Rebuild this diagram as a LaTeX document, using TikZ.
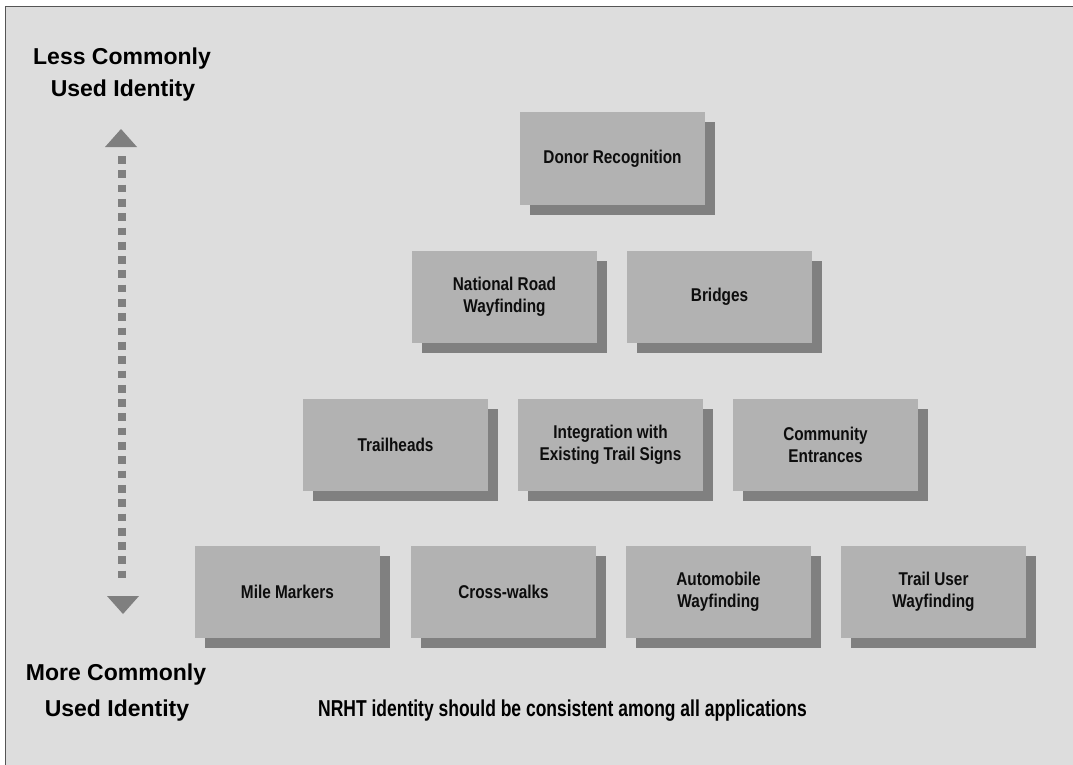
\documentclass[tikz,border=0pt]{standalone}
\usepackage{fontspec}
\setmainfont{Liberation Sans}
\newfontfamily\boxfont{Liberation Sans}[FakeStretch=0.83]
\newfontfamily\notefont{Liberation Sans}[FakeStretch=0.76]
\usetikzlibrary{shadows}
\definecolor{bg}{HTML}{DDDDDD}
\definecolor{boxfill}{HTML}{B2B2B2}
\definecolor{shade}{HTML}{808080}
\definecolor{framecol}{HTML}{555555}
\definecolor{arrowcol}{HTML}{7F7F7F}
\begin{document}
\begin{tikzpicture}[x=1bp,y=-1bp,
  item/.style={rectangle, fill=boxfill, minimum width=185bp, minimum height=92bp,
    inner sep=0pt, align=center, text=black!95,
    font=\boxfont\fontsize{18.5bp}{22bp}\selectfont\bfseries,
    drop shadow={shadow xshift=10bp, shadow yshift=-10bp, fill=shade, opacity=1}},
  sidelabel/.style={anchor=base, inner sep=0pt, font=\fontsize{23bp}{27bp}\selectfont\bfseries},
  notelabel/.style={anchor=base, inner sep=0pt, font=\notefont\fontsize{23bp}{27bp}\selectfont\bfseries},
  tri/.style={fill=arrowcol}
]
\path[use as bounding box] (0,0) rectangle (1073,765);
\fill[white] (0,0) rectangle (1073,765);
\draw[framecol, line width=1.5bp, fill=bg] (5.5,6.5) rectangle (1100,800);

% side labels
\node[sidelabel] (lessA) at (122,65) {Less Commonly};
\node[sidelabel] (lessB) at (123,97) {Used Identity};
\node[sidelabel] (moreA) at (116,680) {More Commonly};
\node[sidelabel] (moreB) at (117,716.5) {Used Identity};
\node[notelabel] (note) at (562.5,716) {NRHT identity should be consistent among all applications};

% vertical arrow
\coordinate (arrtop) at (122,156);
\coordinate (arrbot) at (122,584);
\draw[arrowcol, line width=8bp, dash pattern=on 7.7bp off 6.6bp] (arrtop) -- (arrbot);
\fill[tri] (121,129) -- (137,147) -- (105,147) -- cycle;
\fill[tri] (107,596) -- (139,596) -- (123,614) -- cycle;

% boxes
\node[item] (donor) at (612.5,158.5) {Donor Recognition};
\node[item] (national) at (504.5,297) {National Road\\Wayfinding};
\node[item] (bridges) at (719.5,297) {Bridges};
\node[item] (trailheads) at (395.5,445) {Trailheads};
\node[item] (integration) at (610.5,445) {Integration with\\Existing Trail Signs};
\node[item] (community) at (825.5,445) {Community\\Entrances};
\node[item] (mile) at (287.5,592) {Mile Markers};
\node[item] (cross) at (503.5,592) {Cross-walks};
\node[item] (auto) at (718.5,592) {Automobile\\Wayfinding};
\node[item] (trailuser) at (933.5,592) {Trail User\\Wayfinding};
\end{tikzpicture}
\end{document}
